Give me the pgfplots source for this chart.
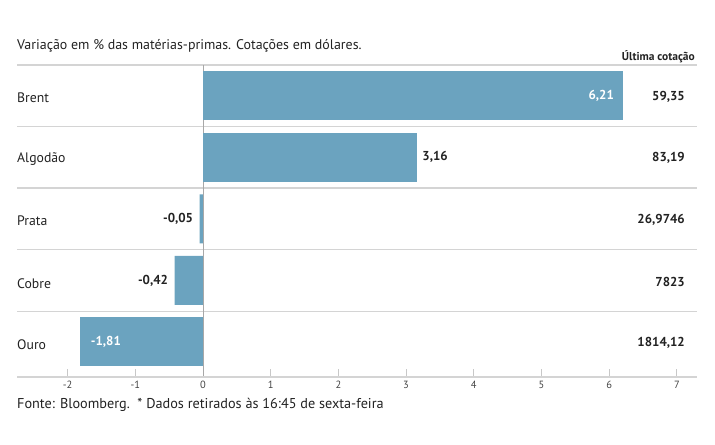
\documentclass[border=0pt]{standalone}
\usepackage{fontspec}
\setmainfont{PT Sans}
\usepackage{pgfplots}
\pgfplotsset{compat=1.18}
\definecolor{barc}{HTML}{6BA3BF}
\definecolor{txt}{HTML}{222222}
\definecolor{gridc}{HTML}{D4D4D4}
\definecolor{tickc}{HTML}{C8C8C8}
\definecolor{zeroc}{HTML}{A8A8A8}
\begin{document}
\begin{tikzpicture}[x=1bp,y=1bp]
\path[use as bounding box] (0,0) rectangle (715,445);
\begin{axis}[
  at={(17bp,68bp)}, anchor=south west,
  scale only axis, width=680bp, height=312bp,
  xbar, bar width=49bp, bar shift=0pt,
  xmin=-2.747, xmax=7.297, ymin=-0.57, ymax=4.5,
  axis line style={draw=none},
  xtick={-2,-1,0,1,2,3,4,5,6,7},
  ytick={0.5,1.5,2.5,3.5,4.5}, yticklabels={},
  ymajorgrids, grid style={draw=gridc, line width=1.2bp},
  ytick style={draw=none},
  xtick pos=bottom, tick align=inside,
  xtick style={draw=tickc, line width=0.9bp},
  major tick length=8bp,
  xticklabel style={font=\fontsize{10.5}{12}\selectfont, text=txt!85, yshift=-1bp},
  /pgf/number format/assume math mode=true,
  point meta=x,
  nodes near coords={\pgfmathprintnumber[fixed,fixed zerofill,precision=2,use comma,assume math mode=true]{\pgfplotspointmeta}},
  nodes near coords style={font=\bfseries\fontsize{13}{15}\selectfont, text=txt},
  clip=false,
]
\draw[zeroc, line width=0.8bp] (axis cs:0,-0.57) -- (axis cs:0,4.5);
\draw[gridc, line width=1.2bp] (axis cs:-2.747,-0.57) -- (axis cs:7.297,-0.57);
% Brent (inside, white)
\addplot[fill=barc, draw=none, nodes near coords style={anchor=east, text=white, xshift=-6bp}] coordinates {(6.21,4)};
% Algodao (outside)
\addplot[fill=barc, draw=none, nodes near coords style={anchor=west, xshift=2bp}] coordinates {(3.16,3)};
% Prata, Cobre (outside, negative)
\addplot[fill=barc, draw=none, nodes near coords style={anchor=east, xshift=-3bp}] coordinates {(-0.05,2) (-0.42,1)};
% Ouro (inside, white)
\addplot[fill=barc, draw=none, nodes near coords style={anchor=west, text=white, xshift=7bp}] coordinates {(-1.81,0)};
\end{axis}
\begin{scope}[every node/.style={inner sep=0pt, text=txt}]
\node[anchor=base west, font=\fontsize{14}{16}\selectfont] at (17,395) {Variação em \% das matérias-primas. Cotações em dólares.};
\node[anchor=base east, font=\bfseries\fontsize{11.5}{14}\selectfont] at (695,384) {Última cotação};
\node[anchor=base west, font=\fontsize{14.3}{16}\selectfont] at (17,36) {Fonte: Bloomberg.\ \ * Dados retirados às 16:45 de sexta-feira};
\foreach \lab/\yy in {Brent/347, Algodão/286, Prata/224, Cobre/161, Ouro/100}
  \node[anchor=west, font=\fontsize{13.8}{16}\selectfont] at (17,\yy) {\lab};
\foreach \val/\yy in {{59,35}/348, {83,19}/287, {26,9746}/225, {7823}/163, {1814,12}/102}
  \node[anchor=east, font=\bfseries\fontsize{13}{15}\selectfont] at (685,\yy) {\val};
\end{scope}
\end{tikzpicture}
\end{document}
